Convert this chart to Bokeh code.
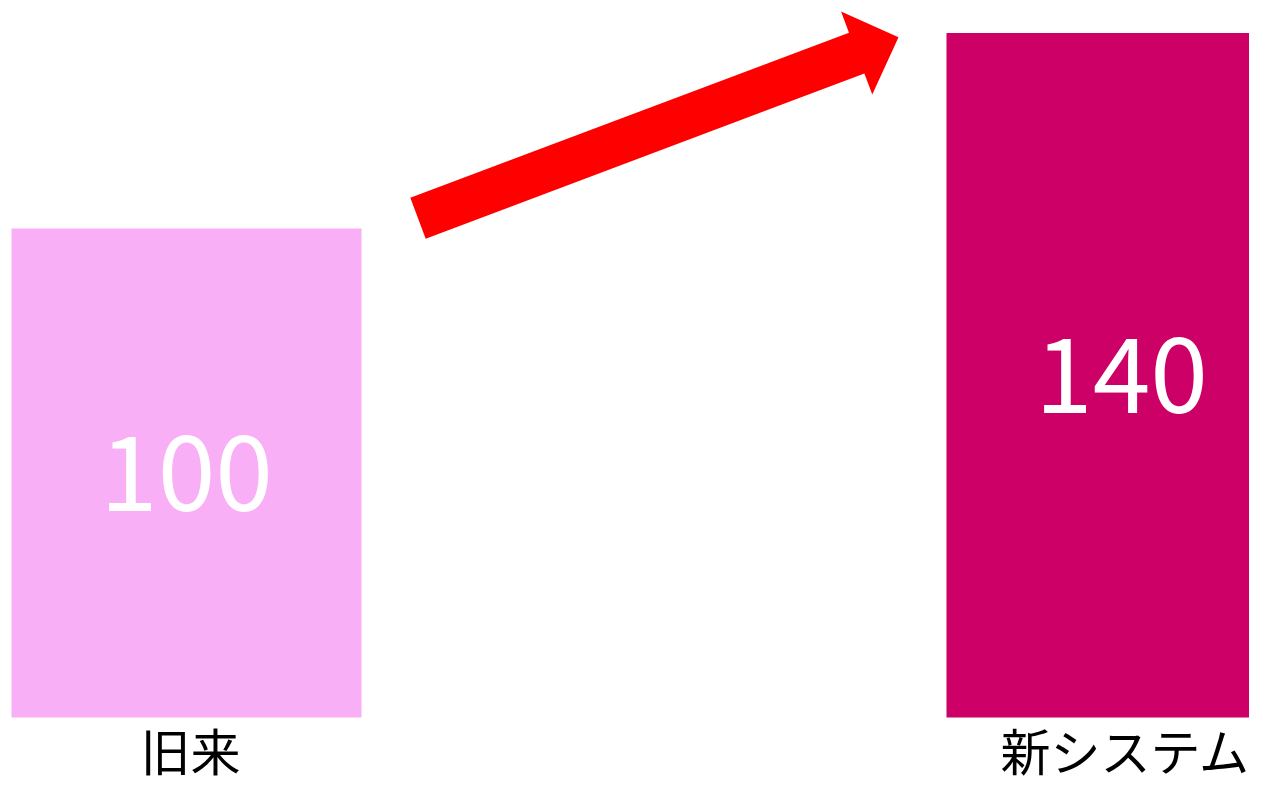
import math
from bokeh.plotting import figure
from bokeh.models import Range1d, ColumnDataSource
from bokeh.core.properties import value
from bokeh.embed import file_html
from bokeh.resources import INLINE

# ---- data ----
categories = ["旧来", "新システム"]
values = [100, 140]
bar_colors = ["#F9AFF6", "#CC0066"]

FONT = "Noto Sans CJK JP"

W, H = 1249, 785
# scale: pixels per data unit
PX_X = 935.0
PX_Y = 4.89
x0_px = 186.0    # frame-pixel position of category index 0
base_px = 717.0  # frame-pixel position of y = 0 (from top)

p = figure(width=W, height=H, output_backend="svg", toolbar_location=None,
           x_range=Range1d(-x0_px / PX_X, (W - x0_px) / PX_X),
           y_range=Range1d(-(H - base_px) / PX_Y, base_px / PX_Y),
           min_border=0, outline_line_color=None)
p.axis.visible = False
p.grid.visible = False
p.background_fill_color = "white"
p.border_fill_color = "white"

xs = list(range(len(categories)))
src = ColumnDataSource(dict(x=xs, top=values, color=bar_colors,
                            label=[str(v) for v in values],
                            mid=[v / 2 for v in values],
                            cat=categories))

p.vbar(x="x", top="top", bottom=0, width=350 / PX_X, fill_color="color",
       line_color=None, source=src)

p.text(x="x", y="mid", text="label", source=src, text_color="white",
       text_font=value(FONT), text_font_size="104px",
       text_align="center", text_baseline="middle", x_offset=0)

p.text(x="x", y=-(31 / PX_Y), text="cat", source=src, text_color="black",
       text_font=value(FONT), text_font_size="50px",
       text_align="center", text_baseline="middle", x_offset=4)

# ---- arrow (decoration) computed in pixel space then mapped to data ----
tail = (xs[0] + 231.5 / PX_X, values[0] + 2.1)
tip = (xs[1] - 223 / PX_X, values[1] - 0.9)
tx, ty = tail[0] * PX_X, tail[1] * PX_Y
hx, hy = tip[0] * PX_X, tip[1] * PX_Y
dx, dy = hx - tx, hy - ty
L = math.hypot(dx, dy)
ux, uy = dx / L, dy / L
nx, ny = -uy, ux
shaft_w = 43.6
head_w = 88.6
head_l = 44.7
bx, by = hx - ux * head_l, hy - uy * head_l
pts = [
    (tx + nx * shaft_w / 2, ty + ny * shaft_w / 2),
    (bx + nx * shaft_w / 2, by + ny * shaft_w / 2),
    (bx + nx * head_w / 2, by + ny * head_w / 2),
    (hx, hy),
    (bx - nx * head_w / 2, by - ny * head_w / 2),
    (bx - nx * shaft_w / 2, by - ny * shaft_w / 2),
    (tx - nx * shaft_w / 2, ty - ny * shaft_w / 2),
]
p.patch([q[0] / PX_X for q in pts], [q[1] / PX_Y for q in pts],
        fill_color="#FF0000", line_color=None)

open("out.html", "w").write(file_html(p, INLINE))
